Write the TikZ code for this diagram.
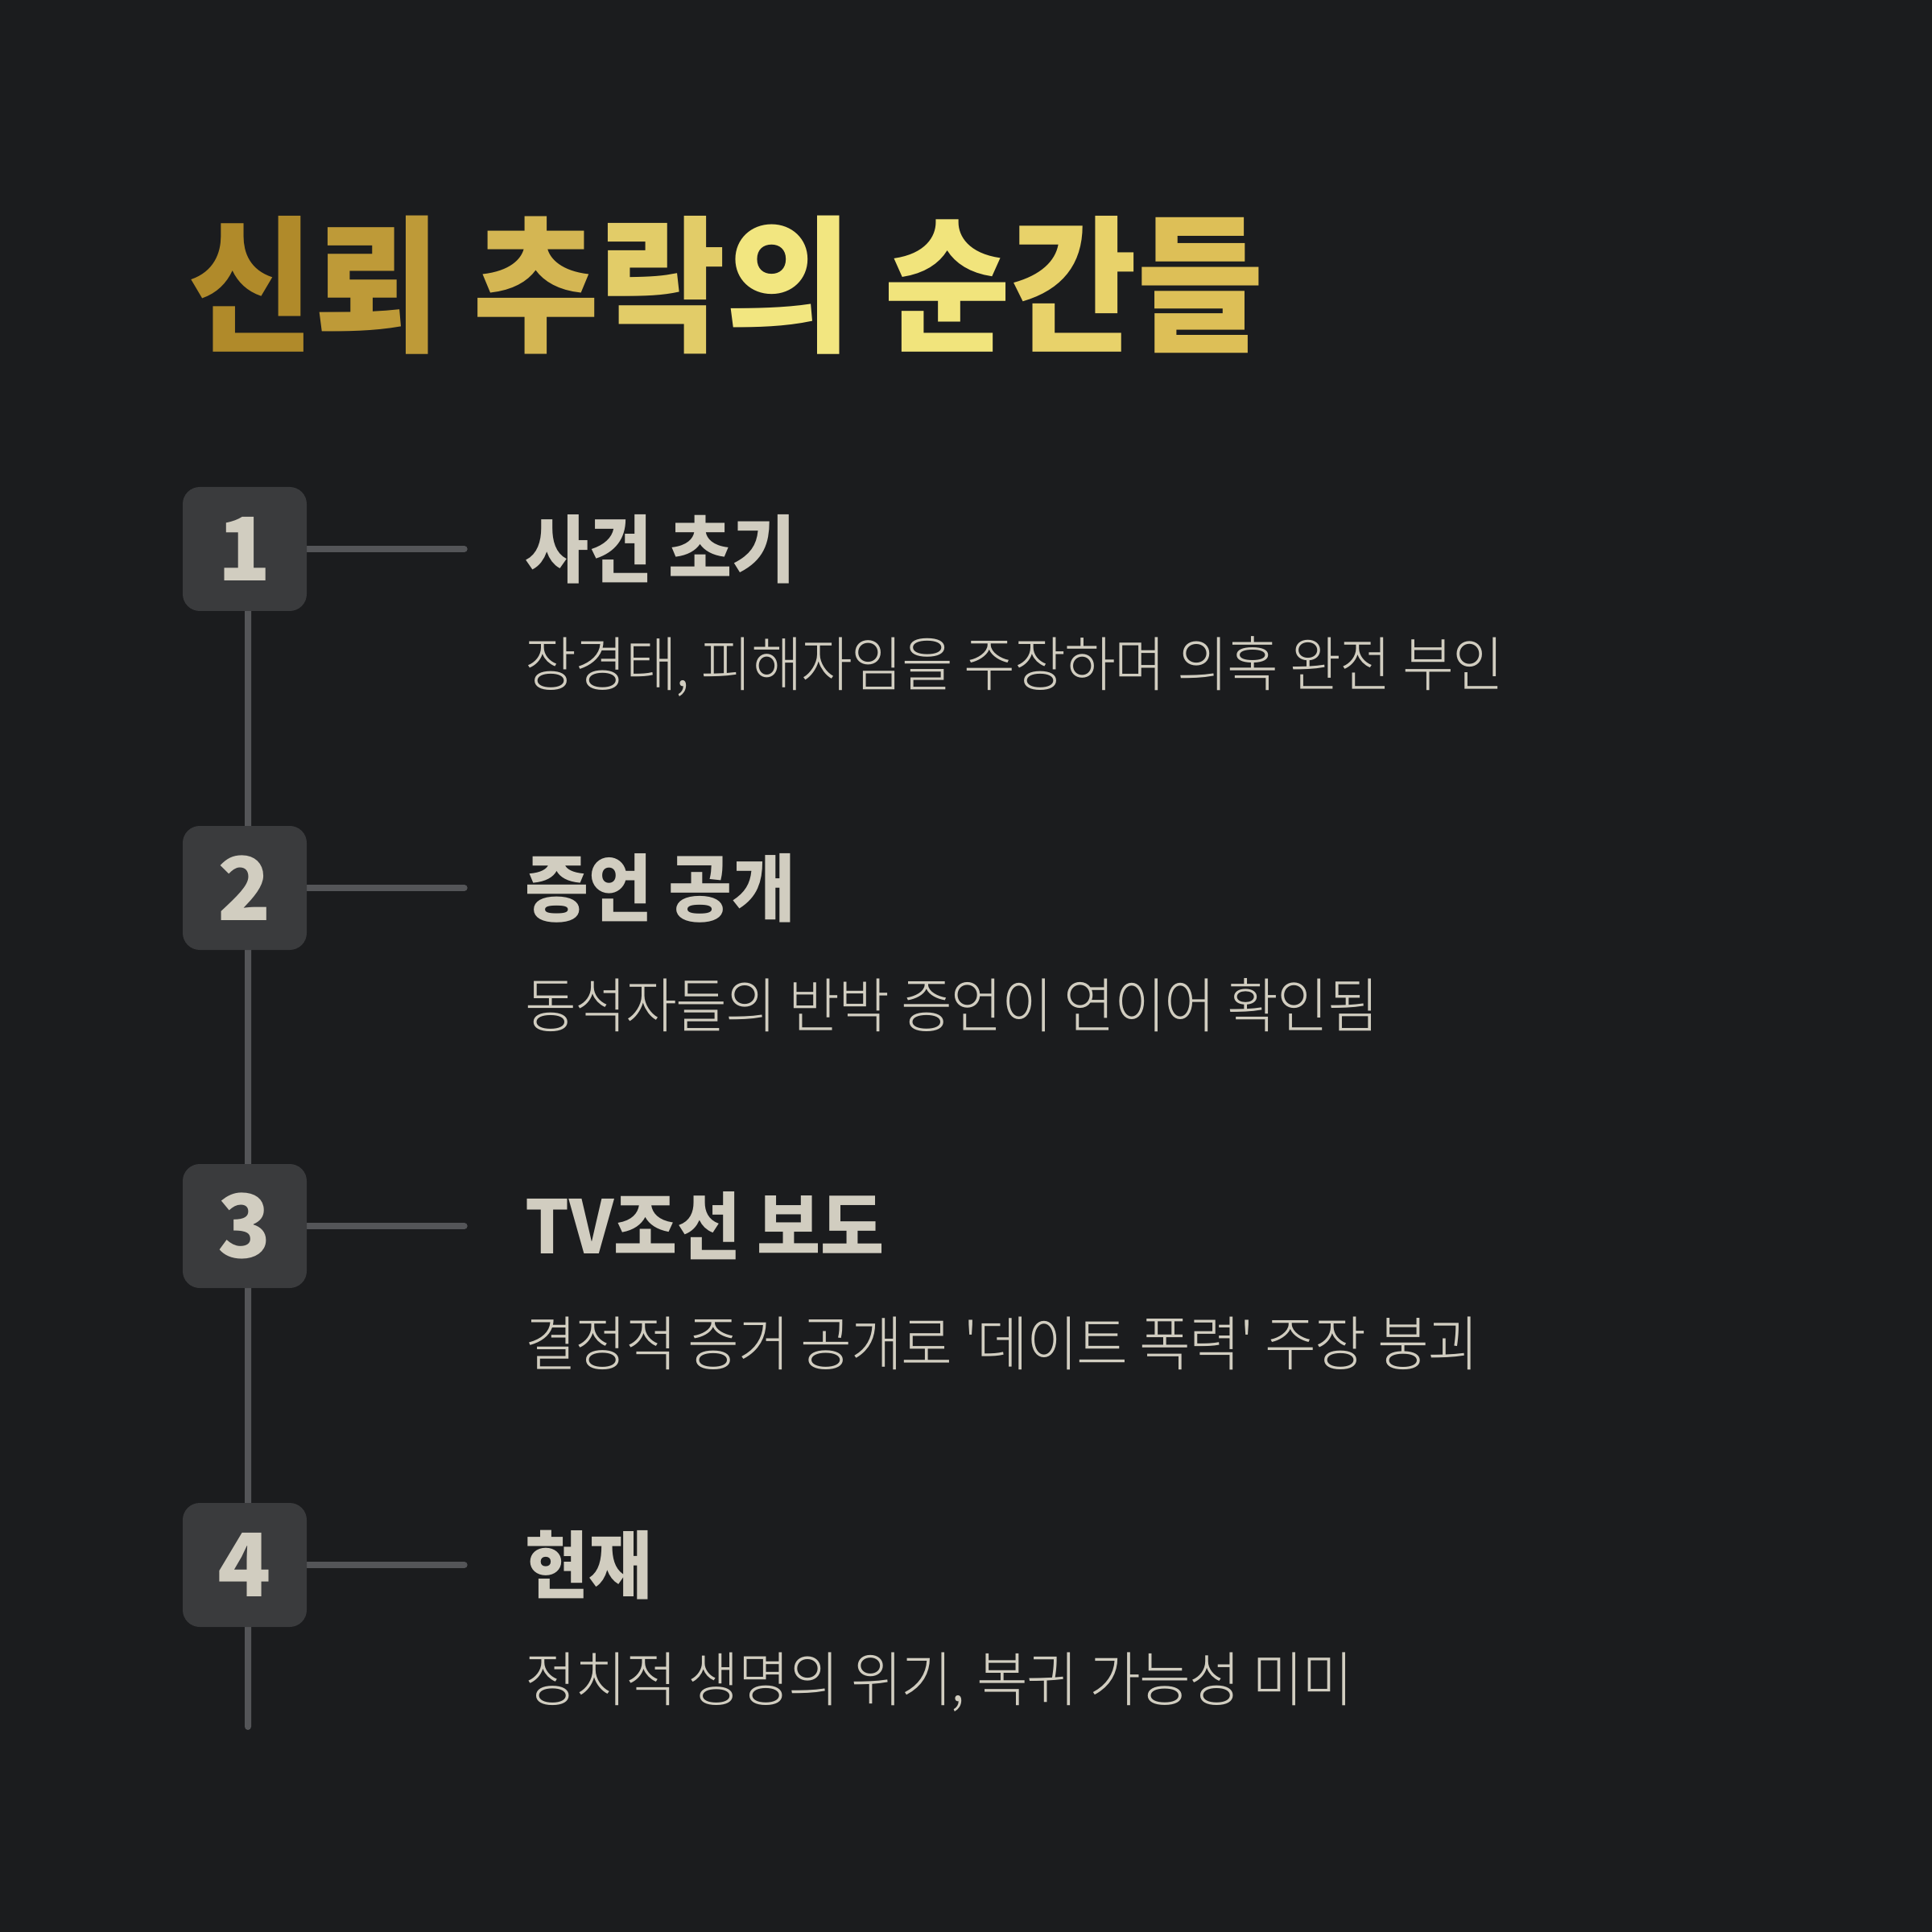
\documentclass[tikz,border=0pt]{standalone}
\usepackage{fontspec}
\setmainfont{Noto Sans CJK KR}[Ligatures=TeXOff]
\IfFontExistsTF{Noto Sans CJK KR Light}
    {\newfontfamily\desclight{Noto Sans CJK KR Light}[Ligatures=TeXOff]}
    {\newcommand\desclight{}}
\usepackage{tikz}
\usetikzlibrary{positioning, backgrounds}

\definecolor{bgdark}{HTML}{1B1C1E}
\definecolor{boxgray}{HTML}{3A3B3D}
\definecolor{linegray}{HTML}{545558}
\definecolor{beige}{HTML}{D1CDC0}
\definecolor{goldA}{HTML}{B08A2A}
\definecolor{goldB}{HTML}{BE9A38}
\definecolor{goldC}{HTML}{D4B653}
\definecolor{goldD}{HTML}{E2CC68}
\definecolor{goldE}{HTML}{F2E680}
\definecolor{goldF}{HTML}{F1E47C}
\definecolor{goldG}{HTML}{E8D26A}
\definecolor{goldH}{HTML}{DDBF57}

\tikzset{
    numbox/.style={
        rectangle,
        rounded corners=6pt,
        fill=boxgray,
        minimum width=1.54cm,
        minimum height=1.54cm,
        inner sep=0pt,
        text=beige,
        font=\fontsize{31}{31}\selectfont\bfseries
    },
    heading/.style={
        anchor=west,
        inner sep=0pt,
        text=beige,
        font=\fontsize{26}{26}\selectfont\bfseries\addfontfeatures{FakeStretch=0.94}
    },
    desc/.style={
        anchor=west,
        inner sep=0pt,
        text=beige,
        font=\fontsize{21}{21}\selectfont\desclight\addfontfeatures{FakeStretch=0.94, LetterSpace=-2}
    }
}

\begin{document}
\begin{tikzpicture}[
    spine/.style={draw=linegray, line width=0.08cm, line cap=round},
    tick/.style={draw=linegray, line width=0.08cm, line cap=round}
]
\useasboundingbox (0,0) rectangle (24,-24);

\node[anchor=west, inner sep=0pt, font=\fontsize{52}{52}\selectfont\bfseries\addfontfeatures{FakeStretch=0.935}] (title) at (2.33,-3.54)
    {\textcolor{goldA}{신}\textcolor{goldB}{뢰} \textcolor{goldC}{추}\textcolor{goldD}{락}\textcolor{goldE}{의} \textcolor{goldF}{순}\textcolor{goldG}{간}\textcolor{goldH}{들}};

\node[numbox] (num1) at (3.04,-6.82) {1};
\node[numbox] (num2) at (3.04,-11.03) {2};
\node[numbox] (num3) at (3.04,-15.23) {3};
\node[numbox] (num4) at (3.04,-19.44) {4};

\node[heading, right=2.7cm of num1] (head1) {사건 초기};
\node[heading, right=2.7cm of num2] (head2) {증언 공개};
\node[heading, right=2.7cm of num3] (head3) {TV조선 보도};
\node[heading, right=2.7cm of num4] (head4) {현재};

\node[desc] (desc1) at ([yshift=-1.46cm]head1.west) {장경태, 피해자임을 주장하며 의혹 완전 부인};
\node[desc] (desc2) at ([yshift=-1.46cm]head2.west) {동석자들의 반박 증언이 연이어 확인됨};
\node[desc] (desc3) at ([yshift=-1.46cm]head3.west) {결정적 증거 공개로 '데이트 폭력' 주장 붕괴};
\node[desc] (desc4) at ([yshift=-1.46cm]head4.west) {정치적 생명의 위기, 복귀 가능성 미미};

\coordinate (spineend) at (3.08,-21.45);
\coordinate (tickend1) at ([xshift=1.95cm]num1.east);
\coordinate (tickend2) at ([xshift=1.95cm]num2.east);
\coordinate (tickend3) at ([xshift=1.95cm]num3.east);
\coordinate (tickend4) at ([xshift=1.95cm]num4.east);

\begin{pgfonlayer}{background}
\fill[bgdark] (0,0) rectangle (24,-24);
\draw[spine] ([xshift=0.04cm]num1.center) -- (spineend);
\draw[tick] (num1.center) -- (tickend1);
\draw[tick] (num2.center) -- (tickend2);
\draw[tick] (num3.center) -- (tickend3);
\draw[tick] (num4.center) -- (tickend4);
\end{pgfonlayer}

\end{tikzpicture}
\end{document}
